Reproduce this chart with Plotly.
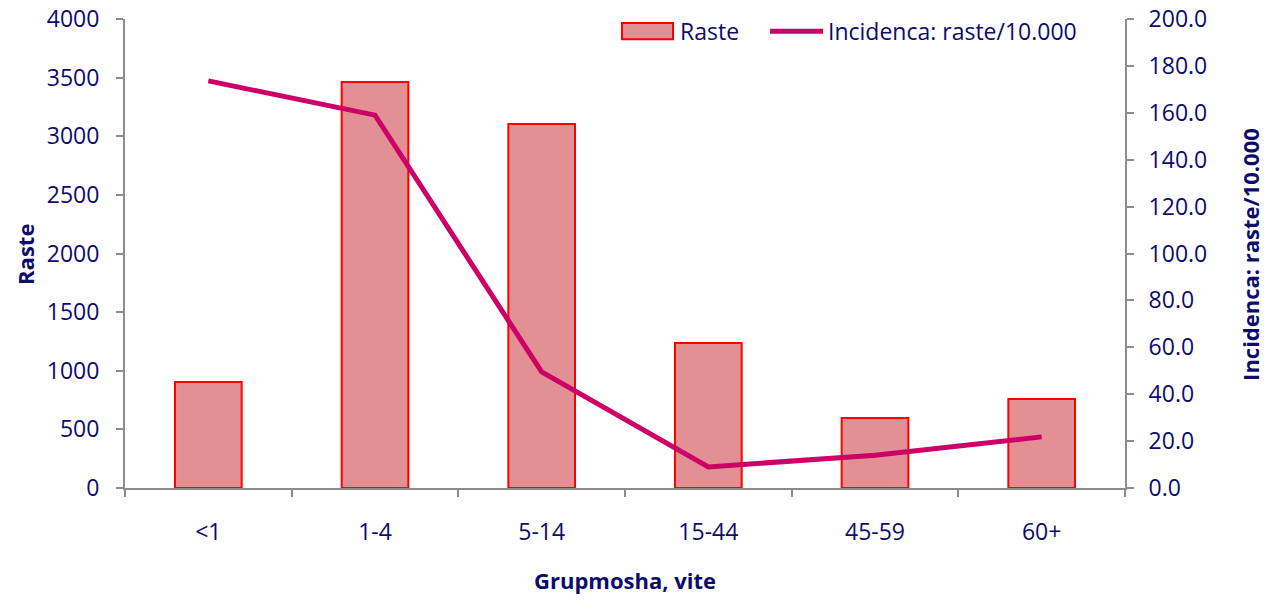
import plotly.graph_objects as go

categories = ["<1", "1-4", "5-14", "15-44", "45-59", "60+"]
raste = [904, 3463, 3104, 1237, 597, 759]
incidenca = [173.6, 159.0, 49.5, 9.0, 14.0, 21.8]

navy = "#0c0c6c"
bar_fill = "rgb(226,144,148)"
bar_edge = "#ff0000"
line_col = "#cc0066"
axis_col = "#8c8c8c"
font_family = "'Open Sans', Lato, sans-serif"
fs = 23
fs_title = 22

fig = go.Figure()
fig.add_trace(go.Bar(
    x=categories, y=raste, name="Raste",
    marker=dict(color=bar_fill, line=dict(color=bar_edge, width=2)),
    width=0.4, yaxis="y",
))
fig.add_trace(go.Scatter(
    x=categories, y=incidenca, name="Incidenca: raste/10.000",
    mode="lines", line=dict(color=line_col, width=5), yaxis="y2",
))

axis_common = dict(showline=True, linecolor=axis_col, linewidth=2,
                   ticks="outside", ticklen=7, tickcolor=axis_col, tickwidth=2,
                   showgrid=False, zeroline=False, automargin=False,
                   tickfont=dict(size=fs, color=navy))

fig.update_layout(
    width=1270, height=600,
    margin=dict(l=125, r=145, t=19, b=112),
    plot_bgcolor="white", paper_bgcolor="white",
    font=dict(family=font_family, size=fs, color=navy),
    showlegend=False,
    xaxis=dict(type="category", tickson="boundaries", ticklabelstandoff=22, **axis_common),
    yaxis=dict(range=[0, 4000], dtick=500, ticklabelstandoff=12, **axis_common),
    yaxis2=dict(range=[0, 200], dtick=20, tickformat=".1f", overlaying="y", side="right",
                ticklabelstandoff=10, **axis_common),
)

# axis titles
fig.add_annotation(text="<b>Raste</b>", xref="paper", yref="paper", x=-0.1, y=0.497,
                   xanchor="center", yanchor="middle",
                   textangle=-90, showarrow=False, font=dict(size=fs_title, color=navy))
fig.add_annotation(text="<b>Incidenca: raste/10.000</b>", xref="paper", yref="paper",
                   x=1.125, y=0.497, xanchor="center", yanchor="middle",
                   textangle=-90, showarrow=False,
                   font=dict(size=fs_title, color=navy))
fig.add_annotation(text="<b>Grupmosha, vite</b>", xref="paper", yref="paper",
                   x=0.5, y=-0.196, xanchor="center", yanchor="middle",
                   showarrow=False, font=dict(size=fs_title, color=navy))

# custom legend
fig.add_shape(type="rect", xref="paper", yref="paper", x0=0.497, x1=0.548, y0=0.957, y1=0.9915,
              fillcolor=bar_fill, line=dict(color=bar_edge, width=2))
fig.add_annotation(text="Raste", xref="paper", yref="paper", x=0.553, y=0.974,
                   xanchor="left", yanchor="middle", showarrow=False,
                   font=dict(size=fs, color=navy))
fig.add_shape(type="line", xref="paper", yref="paper", x0=0.645, x1=0.698, y0=0.974, y1=0.974,
              line=dict(color=line_col, width=5))
fig.add_annotation(text="Incidenca: raste/10.000", xref="paper", yref="paper", x=0.701, y=0.974,
                   xanchor="left", yanchor="middle", showarrow=False,
                   font=dict(size=fs, color=navy))

fig.write_html("out.html", config={"displayModeBar": False},
               post_script="document.body.style.margin='0';")
